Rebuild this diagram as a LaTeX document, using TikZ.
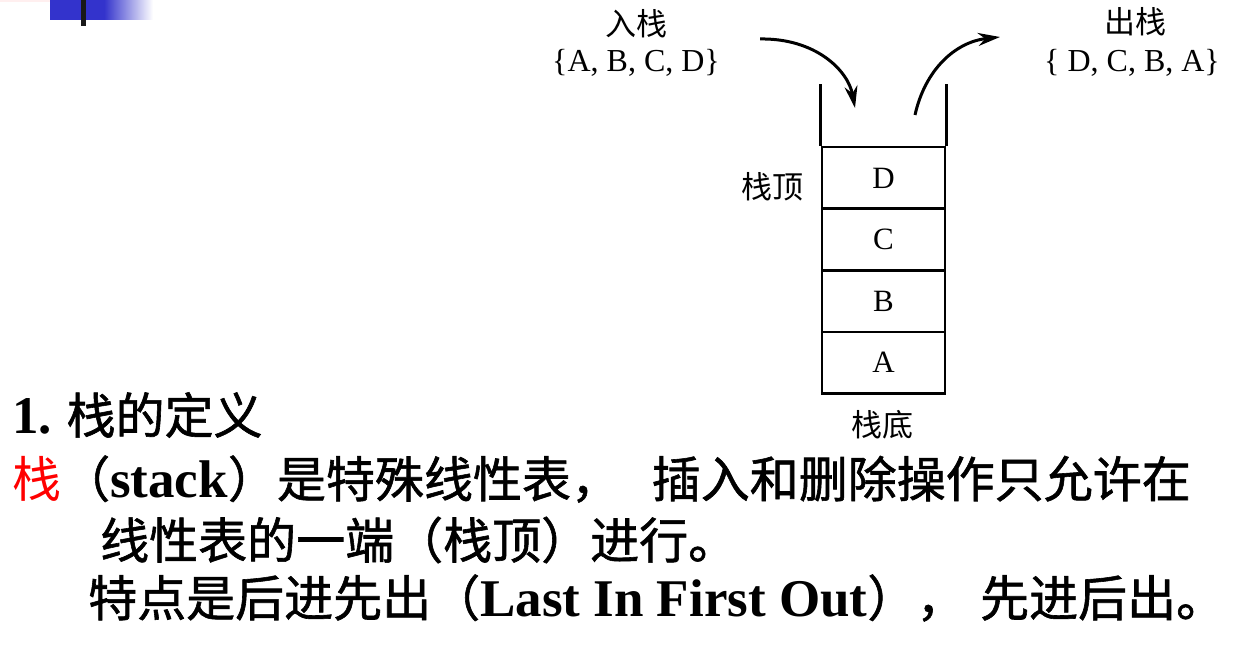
\documentclass[tikz,border=0pt]{standalone}
\usepackage{fontspec}
\setmainfont{Liberation Serif}
\newfontfamily\cjk{Noto Sans CJK SC}
\newfontfamily\cjkb{Noto Sans CJK SC}[FakeBold=1.2]
\usetikzlibrary{arrows.meta}
\newcommand{\en}[1]{{\rmfamily\bfseries\fontsize{53}{55}\selectfont #1}}
\definecolor{deco}{RGB}{51,51,204}

\tikzset{
  cell/.style={draw, line width=2.6pt, minimum width=123pt, minimum height=61.6pt,
    inner sep=0pt, font=\fontsize{31}{34}\selectfont},
  wall/.style={line width=2.6pt},
  flow/.style={line width=3pt, -{Stealth[length=22pt,width=13pt]}},
  tag/.style={inner sep=0pt, font=\cjk\fontsize{31}{35}\selectfont},
  set/.style={inner sep=0pt, font=\fontsize{32}{36}\selectfont},
  body/.style={anchor=west, inner sep=0pt, font=\cjkb\fontsize{49}{55}\selectfont},
}

\begin{document}
\begin{tikzpicture}[x=1pt, y=1pt]
  \useasboundingbox (0,0) rectangle (1243,-647);

  % slide corner
  \fill[pink!25] (0,0) rectangle (71,-2);
  \fill[deco] (50,0) rectangle (104,-20);
  \shade[left color=deco, right color=white] (104,0) rectangle (153,-20);
  \fill[black!90] (81,0) rectangle (86,-26);

  % the stack
  \node[cell] (a) at (883.5,-362.7) {A};
  \node[cell] (b) at (883.5,-301.1) {B};
  \node[cell] (c) at (883.5,-239.5) {C};
  \node[cell] (d) at (883.5,-177.9) {D};
  \draw[wall] (d.north west) -- ++(0,62);
  \draw[wall] (d.north east) -- ++(0,62);

  \node[tag] (top) at (772,-187) {栈顶};
  \node[tag] (bottom) at (882,-425) {栈底};

  \node[tag] (push) at (636,-24) {入栈};
  \node[set] (pushset) at (636,-63) {\{A, B, C, D\}};
  \node[tag] (pop) at (1135,-22) {出栈};
  \node[set] (popset) at (1132,-63) {\{ D, C, B, A\}};

  \coordinate (in) at (760,-39);
  \coordinate (drop) at (855,-108);
  \draw[flow] (in) .. controls (815,-38) and (848,-70) .. (drop);
  \coordinate (lift) at (915,-115);
  \coordinate (out) at (1000,-37);
  \draw[flow] (lift) .. controls (925,-70) and (955,-42) .. (out);

  % text
  \node[body] (title) at (12,-415) {\en{1.} 栈的定义};
  \node[body] (def) at (12,-479) {{\cjk\textcolor{red}{栈}}（\en{stack}）是特殊线性表，\hspace{0.65em}插入和删除操作只允许在};
  \node[body] (def2) at (100,-540) {线性表的一端（栈顶）进行。};
  \node[body] (lifo) at (88,-598) {特点是后进先出（\en{Last In First Out}），\hspace{0.3em}先进后出。};
\end{tikzpicture}
\end{document}
